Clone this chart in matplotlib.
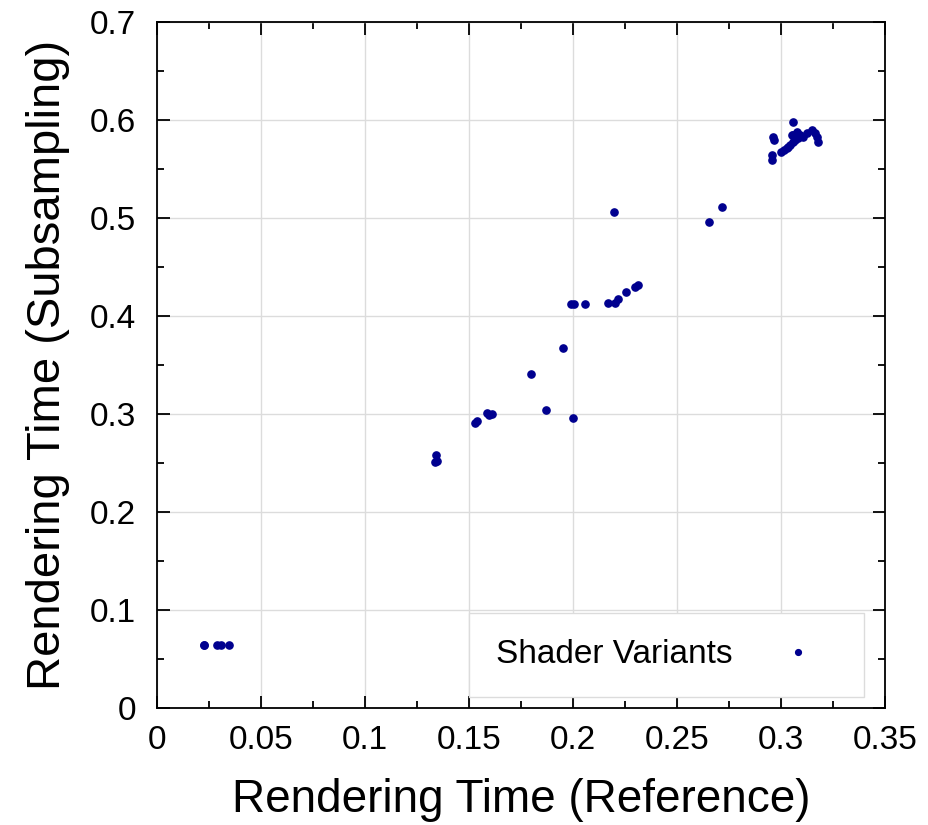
import matplotlib
matplotlib.use("Agg")
import matplotlib.pyplot as plt
from matplotlib.ticker import MultipleLocator

# Rendering times (reference vs subsampling)
ref_time = [0.0225, 0.0290, 0.0310, 0.0345, 0.0228,
            0.1340, 0.1345, 0.1335,
            0.1529, 0.1540, 0.1585, 0.1609, 0.1595,
            0.1798, 0.1869, 0.1952, 0.2000,
            0.1990, 0.2005, 0.2060, 0.2170, 0.2202, 0.2218, 0.2255, 0.2298, 0.2314,
            0.2199, 0.2654, 0.2715,
            0.2958, 0.2958, 0.2960, 0.2966, 0.3002, 0.3014, 0.3027, 0.3035, 0.3043,
            0.3051, 0.3056, 0.3059, 0.3059, 0.3067, 0.3075, 0.3083, 0.3091, 0.3107,
            0.3123, 0.3147, 0.3163, 0.3171, 0.3179]
sub_time = [0.0643, 0.0643, 0.0643, 0.0643, 0.0640,
            0.2582, 0.2520, 0.2510,
            0.2911, 0.2932, 0.3013, 0.2997, 0.2990,
            0.3408, 0.3041, 0.3677, 0.2962,
            0.4122, 0.4122, 0.4119, 0.4129, 0.4129, 0.4177, 0.4248, 0.4299, 0.4319,
            0.5064, 0.4962, 0.5109,
            0.5592, 0.5643, 0.5830, 0.5796, 0.5677, 0.5694, 0.5711, 0.5728, 0.5745,
            0.5847, 0.5983, 0.5779, 0.5847, 0.5796, 0.5881, 0.5813, 0.5847, 0.5830,
            0.5864, 0.5898, 0.5864, 0.5830, 0.5772]

x_ticks = [0, 0.05, 0.1, 0.15, 0.2, 0.25, 0.3, 0.35]
x_labels = ["0", "0.05", "0.1", "0.15", "0.2", "0.25", "0.3", "0.35"]
y_ticks = [0, 0.1, 0.2, 0.3, 0.4, 0.5, 0.6, 0.7]
y_labels = ["0", "0.1", "0.2", "0.3", "0.4", "0.5", "0.6", "0.7"]

plt.rcParams['font.family'] = ['Liberation Sans', 'DejaVu Sans']

fig = plt.figure(figsize=(9.29, 8.25), dpi=100)
ax = fig.add_axes([0.169, 0.1418, 0.7836, 0.8315])

ax.plot(ref_time, sub_time, linestyle='none', marker='o', markersize=5.2,
        color='#00008f', label='Shader Variants')

ax.set_xlim(0, 0.35)
ax.set_ylim(0, 0.7)
ax.set_xticks(x_ticks)
ax.set_xticklabels(x_labels)
ax.set_yticks(y_ticks)
ax.set_yticklabels(y_labels)
ax.xaxis.set_minor_locator(MultipleLocator(0.025))
ax.yaxis.set_minor_locator(MultipleLocator(0.05))

ax.grid(True, which='major', color='#dcdcdc', linewidth=1.0)
ax.set_axisbelow(True)
ax.tick_params(which='both', direction='in', top=True, right=True,
               labelsize=24, width=1.3)
ax.tick_params(axis='x', pad=12)
ax.tick_params(axis='y', pad=15)
ax.tick_params(which='major', length=9)
ax.tick_params(which='minor', length=5)
for s in ax.spines.values():
    s.set_linewidth(1.3)

ax.set_xlabel("Rendering Time (Reference)", fontsize=33, labelpad=16)
ax.set_ylabel("Rendering Time (Subsampling)", fontsize=34, labelpad=14)

leg = ax.legend(loc='lower right', bbox_to_anchor=(0.9712, 0.016),
                borderaxespad=0, markerfirst=False, fontsize=24,
                fancybox=False, edgecolor='#dcdcdc', framealpha=1,
                borderpad=0.8, handletextpad=0.8, handlelength=2.35,
                markerscale=0.8)
leg.get_frame().set_linewidth(1.0)

fig.savefig("out.png", dpi=100)
